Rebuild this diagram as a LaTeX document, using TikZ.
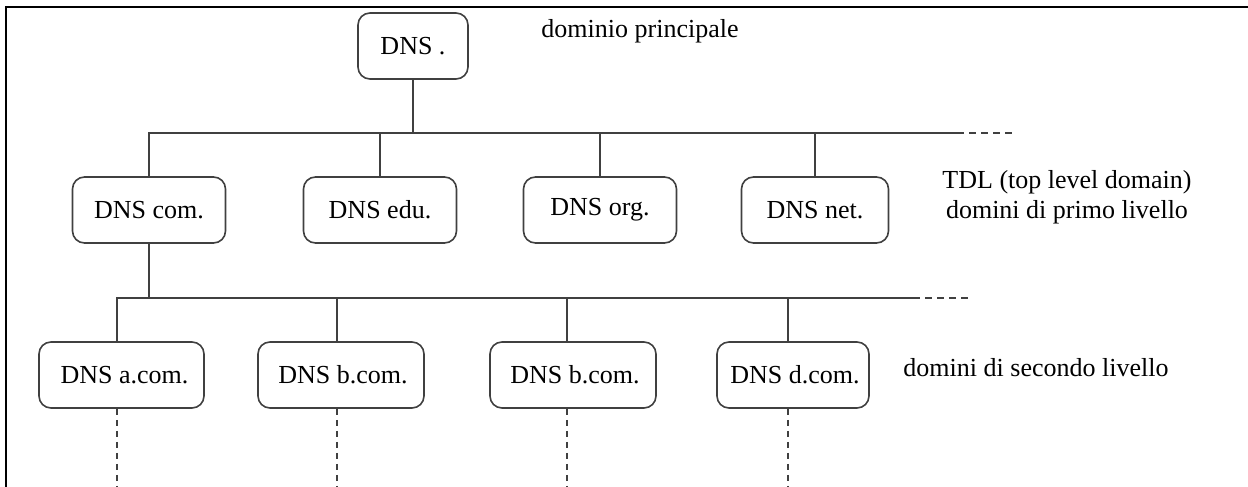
\documentclass[tikz,border=0pt]{standalone}
\usepackage{fontspec}
\setmainfont{Liberation Serif}
\begin{document}
\begin{tikzpicture}[x=1pt,y=-1pt,
  dnsbox/.style={draw=black!75, line width=1.6pt, rounded corners=12pt,
    minimum height=66pt, inner sep=0pt, font=\fontsize{26}{30}\selectfont},
  wire/.style={draw=black!75, line width=1.6pt},
  more/.style={draw=black!75, line width=1.6pt, dash pattern=on 7pt off 5pt},
  down/.style={draw=black!75, line width=1.6pt, dash pattern=on 6pt off 5pt},
  note/.style={font=\fontsize{26}{30}\selectfont, align=center, inner sep=0pt}]
\useasboundingbox (0,0) rectangle (1248,487);
% frame
\draw[line width=2.8pt] (6,487) -- (6,7) -- (1248,7);

% root
\node[dnsbox, minimum width=110pt] (root) at (413,46) {DNS .};
\node[note] (lroot) at (640,31) {dominio principale};

% top level domains
\node[dnsbox, minimum width=153pt] (com) at (149,210) {DNS com.};
\node[dnsbox, minimum width=153pt] (edu) at (380,210) {DNS edu.};
\node[dnsbox, minimum width=153pt] (org) at (600,210) {DNS org.};
\node[dnsbox, minimum width=147pt] (net) at (815,210) {DNS net.};
\node[note] (ltld) at (1067,197) {TDL (top level domain)\\domini di primo livello};

% second level domains
\node[dnsbox, minimum width=165pt] (sa) at (121.5,375) {\hspace*{6pt}DNS a.com.};
\node[dnsbox, minimum width=166pt] (sb) at (341,375) {\hspace*{4pt}DNS b.com.};
\node[dnsbox, minimum width=166pt] (sc) at (573,375) {\hspace*{4pt}DNS b.com.};
\node[dnsbox, minimum width=152pt] (sd) at (793,375) {\hspace*{4pt}DNS d.com.};
\node[note] (lsld) at (1036,368) {domini di secondo livello};

% first bus
\coordinate (b1e) at (957,133);
\coordinate (b1x) at (1013,133);
\draw[wire] (root.south) -- (root.south |- b1e);
\draw[wire] (com.north) |- (b1e);
\draw[more] (b1e) -- (b1x);
\foreach \n in {edu,org,net}
  \draw[wire] (\n.north |- b1e) -- (\n.north);

% second bus
\coordinate (b2e) at (913,298);
\coordinate (b2x) at (970,298);
\draw[wire] (com.south) -- (com.south |- b2e);
\draw[wire] ([xshift=-4.5pt]sa.north) |- (b2e);
\draw[more] (b2e) -- (b2x);
\draw[wire] ([xshift=-4pt]sb.north |- b2e) -- ([xshift=-4pt]sb.north);
\draw[wire] ([xshift=-6pt]sc.north |- b2e) -- ([xshift=-6pt]sc.north);
\draw[wire] ([xshift=-5pt]sd.north |- b2e) -- ([xshift=-5pt]sd.north);

% continuation below the second level
\coordinate (ea) at (117,487);
\coordinate (eb) at (337,487);
\coordinate (ec) at (567,487);
\coordinate (ed) at (788,487);
\draw[down] ([xshift=-4.5pt]sa.south) -- (ea);
\draw[down] ([xshift=-4pt]sb.south) -- (eb);
\draw[down] ([xshift=-6pt]sc.south) -- (ec);
\draw[down] ([xshift=-5pt]sd.south) -- (ed);
\end{tikzpicture}
\end{document}
